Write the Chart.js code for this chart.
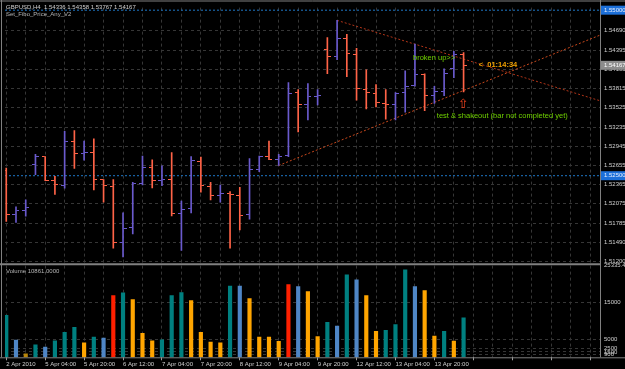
<!DOCTYPE html>
<html>
<head>
<meta charset="utf-8">
<script src="https://cdn.jsdelivr.net/npm/chart.js@4.4.1/dist/chart.umd.min.js"></script>
<style>
  html, body { margin: 0; padding: 0; background: #000; }
  canvas { display: block; }
</style>
</head>
<body>
<canvas id="chart" width="625" height="369"></canvas>
<script>
// GBPUSD H4 bars, oldest first (48 bars, 2 Apr 2010 .. 14 Apr 2010)
const barOpen = [1.52579, 1.51913, 1.51978, 1.52664, 1.52788, 1.52426, 1.52351, 1.53022, 1.52833, 1.52858,
                 1.52440, 1.52336, 1.51491, 1.51714, 1.52375, 1.52619, 1.52435, 1.52450, 1.51934, 1.52002,
                 1.52718, 1.52336, 1.52202, 1.52236, 1.52202, 1.51913, 1.52599, 1.52783, 1.52748, 1.52798,
                 1.53757, 1.53568, 1.53702, 1.54413, 1.54298, 1.54573, 1.54328, 1.53802, 1.53742, 1.53593,
                 1.53568, 1.53750, 1.53866, 1.54025, 1.53708, 1.53777, 1.54115, 1.54336];
const barHigh = [1.52616, 1.52028, 1.52136, 1.52822, 1.52788, 1.52490, 1.53171, 1.53180, 1.53022, 1.53056,
                 1.52440, 1.52440, 1.51938, 1.52400, 1.52798, 1.52739, 1.52649, 1.52848, 1.52117, 1.52788,
                 1.52783, 1.52400, 1.52360, 1.52262, 1.52326, 1.52758, 1.52798, 1.53022, 1.52822, 1.53906,
                 1.53802, 1.53891, 1.53802, 1.54585, 1.54846, 1.54637, 1.54424, 1.54100, 1.53876, 1.53802,
                 1.53757, 1.54085, 1.54488, 1.54040, 1.53851, 1.54115, 1.54379, 1.54358];
const barLow = [1.51811, 1.51793, 1.51889, 1.52515, 1.52426, 1.52217, 1.52311, 1.52609, 1.52733, 1.52285,
                1.52102, 1.51406, 1.51272, 1.51621, 1.52360, 1.52315, 1.52351, 1.51893, 1.51372, 1.51938,
                1.52251, 1.52136, 1.52102, 1.51406, 1.51680, 1.51844, 1.52560, 1.52743, 1.52654, 1.52788,
                1.53161, 1.53344, 1.53568, 1.54040, 1.54254, 1.53996, 1.53642, 1.53508, 1.53538, 1.53355,
                1.53344, 1.53459, 1.53851, 1.53484, 1.53593, 1.53708, 1.53981, 1.53767];
const barClose = [1.51913, 1.51978, 1.52013, 1.52788, 1.52435, 1.52360, 1.53022, 1.52833, 1.52858, 1.52450,
                  1.52351, 1.51491, 1.51710, 1.52375, 1.52619, 1.52435, 1.52450, 1.51934, 1.51993, 1.52724,
                  1.52345, 1.52202, 1.52236, 1.52211, 1.51904, 1.52590, 1.52788, 1.52748, 1.52788, 1.53742,
                  1.53568, 1.53693, 1.53706, 1.54298, 1.54577, 1.54339, 1.53812, 1.53753, 1.53604, 1.53568,
                  1.53742, 1.53854, 1.54025, 1.53708, 1.53768, 1.54051, 1.54324, 1.54167];

// tick volume per bar and its "better volume" class
const volume = [11527, 4714, 981, 3434, 2807, 4524, 6894, 8257, 3979, 5532,
                5259, 16977, 17713, 15887, 6622, 4524, 4796, 16977, 17794, 15614,
                6894, 4169, 3979, 19620, 19620, 16159, 5532, 5532, 4360, 19974,
                19429, 18067, 5723, 9619, 8611, 22699, 21337, 16977, 7167, 7439,
                8993, 24062, 19429, 18339, 5804, 7167, 4442, 10861];
const volumeKind = ['T','B','G','T','B','T','T','T','O','T',
                    'B','R','T','O','O','O','T','T','T','O',
                    'O','O','O','T','B','O','O','O','O','R',
                    'B','O','O','T','B','T','B','O','O','T',
                    'T','T','B','O','O','T','O','T'];

// one time label every 4 bars
const timeLabels = ['2 Apr 2010', '5 Apr 04:00', '5 Apr 20:00', '6 Apr 12:00', '7 Apr 04:00', '7 Apr 20:00',
                    '8 Apr 12:00', '9 Apr 04:00', '9 Apr 20:00', '12 Apr 12:00', '13 Apr 04:00', '13 Apr 20:00'];
const priceTicks = [1.51200, 1.51490, 1.51785, 1.52075, 1.52365, 1.52655, 1.52945, 1.53235,
                    1.53525, 1.53815, 1.54105, 1.54395, 1.54690];
const volumeTicks = [900, 1500, 2500, 5000, 15000, 25335.45];

// drawn objects: trend lines [bar, price], horizontal levels
const upperLine = [[34, 1.54846], [61, 1.53633]];
const lowerLine = [[28, 1.52654], [61, 1.54622]];
const levelLines = [1.55000, 1.52500];
const notes = [
    { text: 'broken up>>', bar: 41.8, price: 1.54279, kind: 'green' },
    { text: 'test & shakeout (bar not completed yet)', bar: 44.25, price: 1.53399, kind: 'green' },
    { text: '<  01:14:34', bar: 48.55, price: 1.54167, kind: 'timer' }
];
const arrowNote = { text: '\u21E7', bar: 46.95, price: 1.53571 };

const BULL = '#6a5acd';
const BEAR = '#ff6347';
const GRID = '#363636';
const FRAME = '#808080';
const TEXT = '#d0d0d0';
const VOL_COLORS = { T: '#008080', B: '#4f86c6', G: '#b8860b', O: '#ffa500', R: '#ff2000' };
const AXIS_FONT = { family: 'Liberation Sans', size: 6 };
const xMin = -0.13, xMax = 61.02;

const idx = barOpen.map((_, i) => i);
const isBull = i => barClose[i] >= barOpen[i];

// small horizontal tick used as point style for open (left) and close (right)
function tickImage(color, left) {
    const c = document.createElement('canvas');
    c.width = 7; c.height = 1;
    const g = c.getContext('2d');
    g.fillStyle = color;
    g.fillRect(left ? 0 : 4, 0, 3, 1);
    return c;
}
const openBull = tickImage(BULL, true), openBear = tickImage(BEAR, true);
const closeBull = tickImage(BULL, false), closeBear = tickImage(BEAR, false);

function trend(points, color) {
    return {
        type: 'line', yAxisID: 'y',
        data: points.map(p => ({ x: p[0], y: p[1] })),
        borderColor: color, borderWidth: 1, borderDash: [2, 2],
        pointRadius: 0
    };
}

const mtOverlay = {
    id: 'mtOverlay',
    beforeDraw(chart) {
        const ctx = chart.ctx;
        ctx.save();
        ctx.fillStyle = '#000';
        ctx.fillRect(0, 0, chart.width, chart.height);
        ctx.restore();
    },
    afterDraw(chart) {
        const { ctx, chartArea: a, scales } = chart;
        const x = scales.x, y = scales.y, yv = scales.yVol;
        ctx.save();

        // frame and pane separator
        ctx.strokeStyle = FRAME;
        ctx.lineWidth = 1;
        ctx.beginPath();
        ctx.moveTo(0, 1); ctx.lineTo(chart.width, 1);
        ctx.moveTo(1.5, 0); ctx.lineTo(1.5, a.bottom);
        ctx.moveTo(a.right + 0.5, 0); ctx.lineTo(a.right + 0.5, a.bottom);
        ctx.moveTo(0, a.bottom + 0.5); ctx.lineTo(chart.width, a.bottom + 0.5);
        ctx.stroke();
        ctx.lineWidth = 2;
        ctx.beginPath();
        ctx.moveTo(0, yv.top); ctx.lineTo(a.right, yv.top);
        ctx.stroke();

        // highlighted prices on the axis
        ctx.font = '6px "Liberation Sans"';
        ctx.textBaseline = 'middle';
        ctx.textAlign = 'left';
        const box = (price, bg, fg) => {
            const py = y.getPixelForValue(price);
            ctx.fillStyle = bg;
            ctx.fillRect(a.right + 1, py - 4.5, 24, 9);
            ctx.fillStyle = fg;
            ctx.fillText(price.toFixed(5), a.right + 4, py);
        };
        levelLines.forEach(p => box(p, '#1c6fd8', '#e8f0ff'));
        box(barClose[barClose.length - 1], '#8c8c8c', '#ffffff');

        // window texts
        ctx.fillStyle = TEXT;
        ctx.fillText('GBPUSD,H4  ' + [barOpen, barHigh, barLow, barClose].map(s => s[s.length - 1].toFixed(5)).join(' '), 6, 7);
        ctx.fillStyle = '#b4b4b4';
        ctx.fillText('Set_Fibo_Price_Any_V2', 6, 14.5);
        ctx.fillText('Volume ' + volume[volume.length - 1].toFixed(4), 6, yv.top + 7);

        // annotations
        notes.forEach(n => {
            ctx.font = n.kind === 'timer' ? 'bold 7.5px "Liberation Sans"' : '7.5px "Liberation Sans"';
            ctx.fillStyle = n.kind === 'timer' ? '#f0a000' : '#6fd000';
            ctx.fillText(n.text, x.getPixelForValue(n.bar), y.getPixelForValue(n.price));
        });
        ctx.font = '13px "DejaVu Sans"';
        ctx.fillStyle = '#e8401c';
        ctx.textAlign = 'center';
        ctx.fillText(arrowNote.text, x.getPixelForValue(arrowNote.bar), y.getPixelForValue(arrowNote.price));
        ctx.restore();
    }
};

const ctx = document.getElementById('chart').getContext('2d');
const chart = new Chart(ctx, {
    type: 'bar',
    data: {
        datasets: [
            {
                type: 'bar', label: 'Volume', yAxisID: 'yVol', grouped: false,
                data: idx.map(i => ({ x: i, y: volume[i] })),
                backgroundColor: idx.map(i => VOL_COLORS[volumeKind[i]]),
                barThickness: 3.5
            },
            {
                type: 'bar', label: 'Range', yAxisID: 'y', grouped: false,
                data: idx.map(i => ({ x: i, y: [barLow[i], barHigh[i]] })),
                backgroundColor: idx.map(i => isBull(i) ? BULL : BEAR),
                barThickness: 1
            },
            {
                type: 'line', label: 'Open', yAxisID: 'y', showLine: false,
                data: idx.map(i => ({ x: i, y: barOpen[i] })),
                pointStyle: idx.map(i => isBull(i) ? openBull : openBear),
                pointRadius: 2
            },
            {
                type: 'line', label: 'Close', yAxisID: 'y', showLine: false,
                data: idx.map(i => ({ x: i, y: barClose[i] })),
                pointStyle: idx.map(i => isBull(i) ? closeBull : closeBear),
                pointRadius: 2
            },
            trend(upperLine, '#b03418'),
            trend(lowerLine, '#c8481c'),
            ...levelLines.map(p => ({
                type: 'line', yAxisID: 'y',
                data: [{ x: xMin, y: p }, { x: xMax, y: p }],
                borderColor: '#1e78c8', borderWidth: 1, borderDash: [2, 2],
                pointRadius: 0
            }))
        ]
    },
    options: {
        responsive: false,
        animation: false,
        devicePixelRatio: 1,
        layout: { padding: { top: 3, left: 2, right: 0, bottom: 0 } },
        plugins: {
            legend: { display: false },
            tooltip: { enabled: false }
        },
        scales: {
            x: {
                type: 'linear', position: 'bottom', min: xMin, max: xMax,
                offset: false,
                grid: {
                    color: GRID, offset: false, drawTicks: true, tickLength: 3,
                    tickColor: c => (c.tick && c.tick.value % 4 === 0) ? '#a0a0a0' : 'transparent'
                },
                border: { display: false, dash: [3, 3] },
                afterBuildTicks: s => {
                    s.ticks = [];
                    for (let v = 0; v <= 60; v += 2) s.ticks.push({ value: v });
                },
                afterFit: s => { s.height = 11.7; },
                ticks: {
                    autoSkip: false, maxRotation: 0, minRotation: 0, align: 'start', padding: 0,
                    color: TEXT, font: AXIS_FONT,
                    callback: v => v % 4 === 0 ? (timeLabels[v / 4] || '') : ''
                }
            },
            y: {
                type: 'linear', axis: 'y', position: 'right', stack: 'panes', stackWeight: 260,
                min: 1.51163, max: 1.55039,
                grid: { color: GRID, drawTicks: false },
                border: { display: false, dash: [3, 3] },
                afterBuildTicks: s => { s.ticks = priceTicks.map(v => ({ value: v })); },
                afterFit: s => { s.width = 25; },
                ticks: {
                    autoSkip: false, padding: 4, color: TEXT, font: AXIS_FONT,
                    callback: v => v.toFixed(5)
                }
            },
            yVol: {
                type: 'linear', axis: 'y', position: 'right', stack: 'panes', stackWeight: 94.3,
                min: 0, max: 25607,
                grid: {
                    color: c => (c.tick && c.tick.value > 20000) ? 'transparent' : GRID,
                    drawTicks: false
                },
                border: { display: false, dash: [3, 3] },
                afterBuildTicks: s => { s.ticks = volumeTicks.map(v => ({ value: v })); },
                afterFit: s => { s.width = 25; },
                ticks: {
                    autoSkip: false, padding: 4, color: TEXT, font: AXIS_FONT,
                    callback: v => Number.isInteger(v) ? String(v) : v.toFixed(2)
                }
            }
        }
    },
    plugins: [mtOverlay]
});
</script>
</body>
</html>
